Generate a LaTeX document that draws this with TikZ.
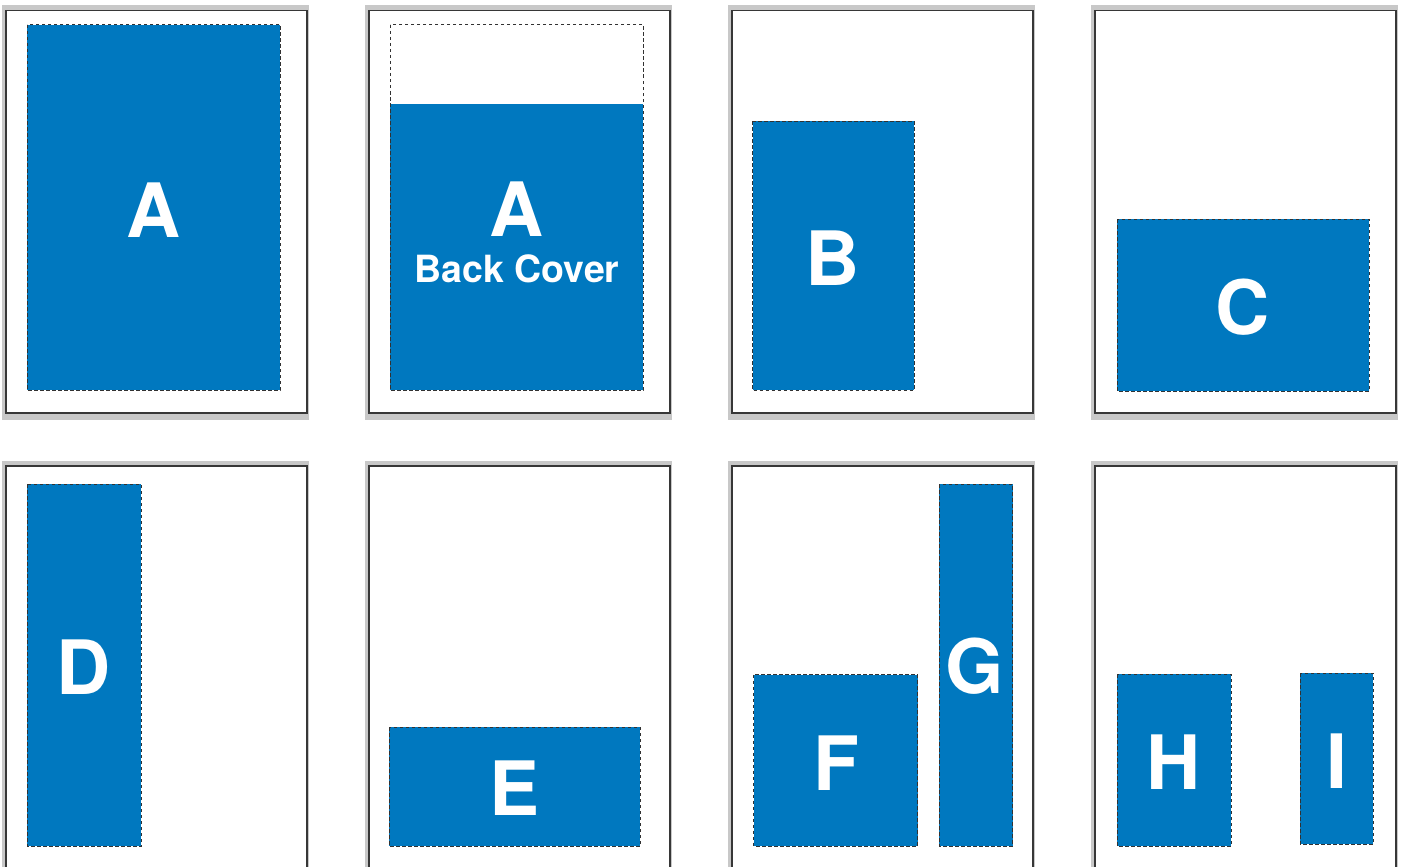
\documentclass[tikz,border=0pt]{standalone}
\usepackage{fontspec}
\setmainfont{TeX Gyre Heros}
\definecolor{panelblue}{RGB}{0,120,191}
\definecolor{shadowgray}{RGB}{200,200,200}
\definecolor{pageline}{RGB}{55,55,55}
\definecolor{dashgray}{RGB}{50,50,50}
\tikzset{
  shadowbox/.style={fill=shadowgray, draw=none},
  pagebox/.style={fill=white, draw=pageline, line width=1.2pt},
  bluebox/.style={fill=panelblue, draw=dashgray, line width=1pt, dash pattern=on 3.5pt off 2.5pt},
  trimbox/.style={draw=dashgray, line width=1pt, dash pattern=on 3.5pt off 2.5pt},
  biglabel/.style={text=white, font=\bfseries\fontsize{75}{80}\selectfont, anchor=base, inner sep=0pt},
  smalllabel/.style={text=white, font=\bfseries\fontsize{37.5}{40}\selectfont, anchor=base, inner sep=0pt}
}
\begin{document}
\begin{tikzpicture}[x=1pt,y=-1pt]
\useasboundingbox (0,0) rectangle (1406,867);
% pages
\foreach \xl/\xr in {6/307,369/670,732/1033,1095/1396}{
  \fill[shadowgray] (\xl-4.5,5) rectangle (\xr+1.5,419.5);
  \draw[pagebox] (\xl,10.5) rectangle (\xr,413);
  \fill[shadowgray] (\xl-4.5,461) rectangle (\xr+1.5,875);
  \draw[pagebox] (\xl,466) rectangle (\xr,880);
}
% row 1
\draw[bluebox] (27,25) rectangle (280,390);
\node[biglabel] (a1) at (154,237) {A};

\fill[panelblue] (390,104) rectangle (643,390);
\draw[trimbox] (390,25) rectangle (643,390);
\node[biglabel] (a2) at (517,236) {A};
\node[smalllabel] (bc) at (517,282) {Back Cover};

\draw[bluebox] (752.5,121) rectangle (914,390);
\node[biglabel] (b) at (833,285) {B};

\draw[bluebox] (1117,219) rectangle (1369,391);
\node[biglabel] (c) at (1243,334) {C};

% row 2
\draw[bluebox] (27,484) rectangle (141,846);
\node[biglabel] (d) at (84,694) {D};

\draw[bluebox] (389,727) rectangle (640,846);
\node[biglabel] (e) at (515,815) {E};

\draw[bluebox] (753.5,674.5) rectangle (917.5,846);
\node[biglabel] (f) at (836,790) {F};
\draw[bluebox] (939,484) rectangle (1012.5,846);
\node[biglabel] (g) at (975,693) {G};

\draw[bluebox] (1117,674) rectangle (1231,846);
\node[biglabel] (h) at (1174,789) {H};
\draw[bluebox] (1300,673) rectangle (1373,844);
\node[biglabel] (i) at (1337,788) {I};
\end{tikzpicture}
\end{document}
